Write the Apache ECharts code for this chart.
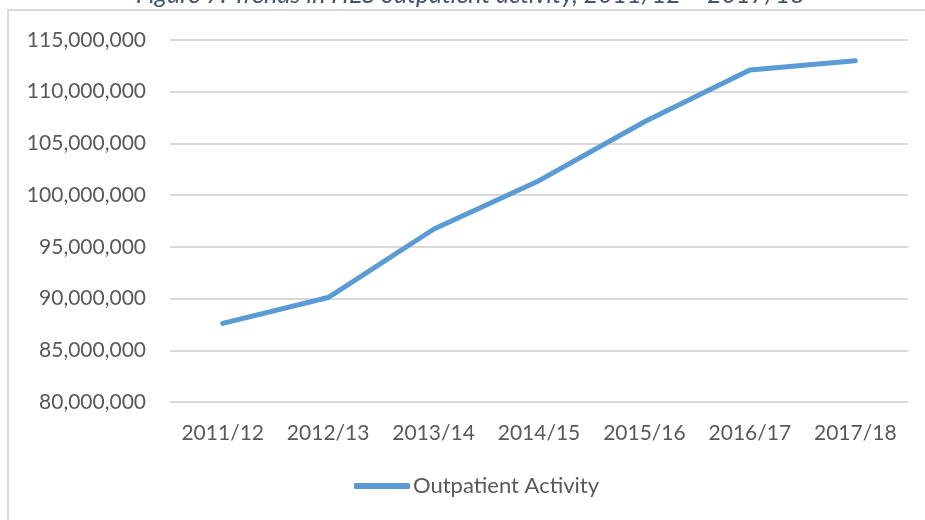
<!DOCTYPE html>
<html>
<head>
<meta charset="utf-8">
<script src="https://cdn.jsdelivr.net/npm/echarts@6/dist/echarts.min.js"></script>
<style>
  html, body { margin: 0; padding: 0; background: #fff; }
  #chart { width: 925px; height: 520px; }
</style>
</head>
<body>
<div id="chart"></div>
<script>
// data
var years = ['2011/12', '2012/13', '2013/14', '2014/15', '2015/16', '2016/17', '2017/18'];
var outpatient = [87600000, 90100000, 96700000, 101400000, 107100000, 112100000, 113000000];
var seriesName = 'Outpatient Activity';
var titleText = 'Figure 7: Trends in HES outpatient activity, 2011/12 \u2013 2017/18';

var font = 'Lato';
var textColor = '#595959';

var myChart = echarts.init(document.getElementById('chart'));
myChart.setOption({
    animation: false,
    title: {
        text: titleText,
        left: 136,
        top: -18,
        padding: 0,
        textStyle: {
            fontFamily: font,
            fontStyle: 'italic',
            fontWeight: 'normal',
            fontSize: 25,
            color: '#44546A'
        }
    },
    graphic: [{
        type: 'rect',
        shape: { x: 8, y: 10, width: 1000, height: 1000 },
        style: { fill: 'none', stroke: '#d9d9d9', lineWidth: 2 },
        silent: true
    }],
    legend: {
        data: [seriesName],
        left: 354,
        top: 475,
        padding: 0,
        icon: 'roundRect',
        itemWidth: 56,
        itemHeight: 6,
        textStyle: { fontFamily: font, fontSize: 22, color: textColor, padding: [0, 0, 0, -2] }
    },
    grid: { left: 170, right: 17, top: 40, bottom: 118, containLabel: false },
    xAxis: {
        type: 'category',
        data: years,
        boundaryGap: true,
        axisLine: { show: false },
        axisTick: { show: false },
        axisLabel: { interval: 0, fontFamily: font, fontSize: 21, color: textColor, margin: 21 }
    },
    yAxis: {
        type: 'value',
        min: 80000000,
        max: 115000000,
        interval: 5000000,
        axisLine: { show: false },
        axisTick: { show: false },
        splitLine: { lineStyle: { color: '#d9d9d9', width: 2 } },
        axisLabel: {
            fontFamily: font, fontSize: 21, color: textColor, margin: 24,
            formatter: function (v) { return v.toLocaleString('en-US'); }
        }
    },
    series: [{
        name: seriesName,
        type: 'line',
        data: outpatient,
        showSymbol: false,
        symbol: 'none',
        color: '#5B9BD5',
        lineStyle: { width: 5, color: '#5B9BD5', cap: 'round', join: 'round' }
    }]
});
</script>
</body>
</html>
